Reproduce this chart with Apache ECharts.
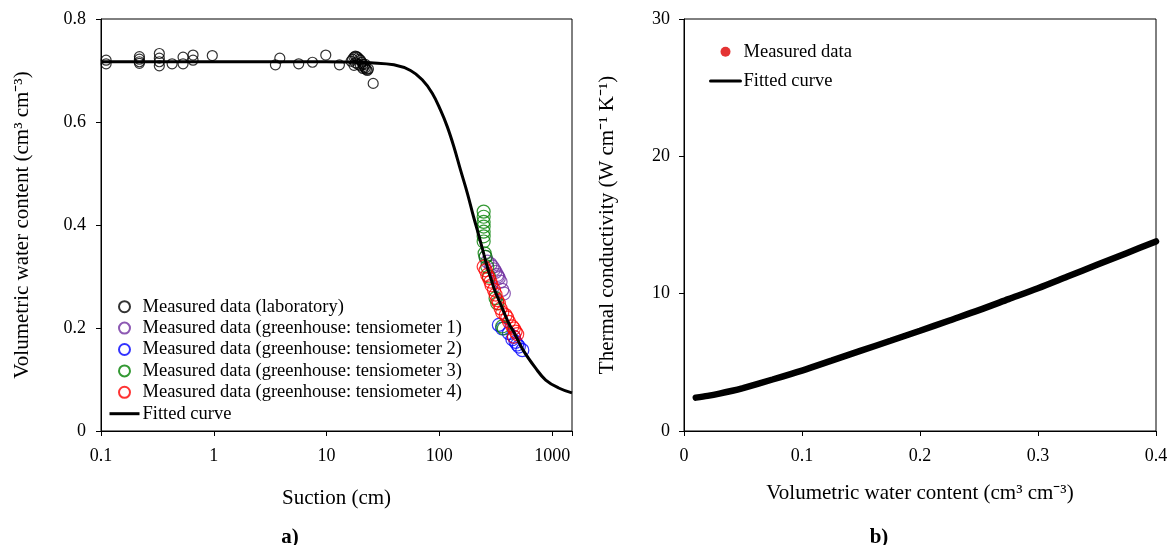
<!DOCTYPE html>
<html>
<head>
<meta charset="utf-8">
<script src="https://cdn.jsdelivr.net/npm/echarts@6/dist/echarts.min.js"></script>
<style>
  html, body { margin: 0; padding: 0; background: #fff; }
  #chart { width: 1171px; height: 545px; }
</style>
</head>
<body>
<div id="chart"></div>
<script>
// a) water retention: suction (cm) vs volumetric water content
const labSuction = [0.111, 0.111, 0.219, 0.219, 0.219, 0.219, 0.329, 0.329, 0.329, 0.329, 0.427, 0.534, 0.534, 0.655, 0.655, 0.97,
  3.52, 3.85, 5.66, 7.5, 9.84, 13.0,
  16.5, 17, 17.5, 18, 18.5, 19, 19.5, 18, 19, 20, 20.5, 21, 21.5, 22, 22.5, 23, 21, 20, 22, 17.5, 23.5, 25.9]
const labTheta = [0.720, 0.713, 0.727, 0.722, 0.717, 0.714, 0.733, 0.724, 0.717, 0.709, 0.713, 0.726, 0.713, 0.730, 0.720, 0.729,
  0.711, 0.724, 0.713, 0.716, 0.730, 0.711,
  0.718, 0.722, 0.726, 0.728, 0.727, 0.725, 0.722, 0.715, 0.712, 0.720, 0.716, 0.712, 0.708, 0.705, 0.702, 0.700, 0.704, 0.709, 0.712, 0.710, 0.703, 0.675]

const t1Suction = [257, 266, 284, 296, 305, 315, 326, 337, 349, 361, 373, 330]
const t1Theta = [0.338, 0.329, 0.324, 0.319, 0.314, 0.309, 0.303, 0.297, 0.290, 0.274, 0.267, 0.300]

const t2Suction = [337, 361, 414, 444, 458, 474, 490, 507, 544]
const t2Theta = [0.206, 0.199, 0.190, 0.178, 0.183, 0.173, 0.168, 0.164, 0.157]

const t3Suction = [247, 247, 247, 247, 247, 247, 247, 252, 257, 266, 275, 315, 326, 361, 373]
const t3Theta = [0.426, 0.416, 0.406, 0.397, 0.387, 0.378, 0.368, 0.345, 0.338, 0.319, 0.300, 0.258, 0.248, 0.203, 0.199]

const t4Suction = [247, 257, 266, 275, 284, 290, 305, 315, 326, 337, 349, 361, 387, 400, 414, 444, 458, 474, 458, 490]
const t4Theta = [0.319, 0.312, 0.303, 0.297, 0.290, 0.283, 0.274, 0.265, 0.254, 0.248, 0.238, 0.230, 0.225, 0.220, 0.212, 0.203, 0.199, 0.193, 0.183, 0.188]

const fitSuction = [0.1, 0.3, 1, 3, 10, 18, 24.5, 39.5, 55.5, 70.5, 86.5, 102.5, 117.5, 134.5, 154, 177, 201, 223, 249, 268, 309, 350, 407, 470, 553, 714, 877, 1143, 1500]
const fitTheta = [0.717, 0.717, 0.717, 0.717, 0.717, 0.716, 0.715, 0.711, 0.700, 0.682, 0.656, 0.623, 0.591, 0.552, 0.507, 0.462, 0.416, 0.381, 0.342, 0.3165, 0.274, 0.246, 0.212, 0.187, 0.157, 0.122, 0.099, 0.0835, 0.074]

// b) thermal conductivity vs water content
const kTheta = [0.01, 0.02, 0.03, 0.04, 0.05, 0.075, 0.1, 0.125, 0.15, 0.175, 0.2, 0.225, 0.25, 0.275, 0.3, 0.325, 0.35, 0.375, 0.4]
const kValue = [2.43, 2.56, 2.72, 2.91, 3.13, 3.75, 4.4, 5.12, 5.85, 6.57, 7.3, 8.05, 8.8, 9.6, 10.4, 11.25, 12.1, 12.95, 13.8]
const kMeasuredTheta = []
const kMeasuredValue = []

const FONT = "'Liberation Serif', 'Times New Roman', serif"
const zip = (a, b) => a.map((v, i) => [v, b[i]])

const chart = echarts.init(document.getElementById('chart'))

const axisCommon = {
  axisLine: { show: true, onZero: false, lineStyle: { color: '#000', width: 1 } },
  axisTick: { show: true, inside: false, length: 5, lineStyle: { color: '#000' } },
  splitLine: { show: false },
  nameTextStyle: { fontFamily: FONT, fontSize: 21, color: '#000' }
}
const labelCommon = { fontFamily: FONT, fontSize: 18, color: '#000' }

const hollow = (name, color, size, x, y) => ({
  name: name,
  type: 'scatter',
  xAxisIndex: 0,
  yAxisIndex: 0,
  symbol: 'circle',
  symbolSize: size,
  itemStyle: { color: 'rgba(0,0,0,0)', borderColor: color, borderWidth: 1.2 },
  data: zip(x, y),
  z: 2
})

const option = {
  backgroundColor: '#fff',
  animation: false,
  title: [
    { text: 'a)', left: 285, top: 522, textAlign: 'center', textStyle: { fontFamily: FONT, fontSize: 21, fontWeight: 'bold', color: '#000' } },
    { text: 'b)', left: 874, top: 522, textAlign: 'center', textStyle: { fontFamily: FONT, fontSize: 21, fontWeight: 'bold', color: '#000' } }
  ],
  grid: [
    { left: 101, right: 599, top: 19, bottom: 114, show: true, borderColor: '#000', borderWidth: 1, containLabel: false },
    { left: 684, right: 15, top: 19, bottom: 114, show: true, borderColor: '#000', borderWidth: 1, containLabel: false }
  ],
  legend: [
    {
      orient: 'vertical',
      left: 103,
      top: 291,
      itemWidth: 30,
      itemHeight: 11,
      itemGap: 0,
      textStyle: { fontFamily: FONT, fontSize: 18.5, color: '#000', lineHeight: 21.4, padding: [0, 0, 0, -2] },
      lineStyle: { width: 3 },
      data: [
        'Measured data (laboratory)',
        'Measured data (greenhouse: tensiometer 1)',
        'Measured data (greenhouse: tensiometer 2)',
        'Measured data (greenhouse: tensiometer 3)',
        'Measured data (greenhouse: tensiometer 4)',
        'Fitted curve'
      ]
    },
    {
      orient: 'vertical',
      left: 704,
      top: 36,
      itemWidth: 30,
      itemHeight: 10,
      itemGap: 8,
      textStyle: { fontFamily: FONT, fontSize: 18.5, color: '#000', lineHeight: 21.4, padding: [0, 0, 0, -2] },
      lineStyle: { width: 3 },
      data: ['Measured data', 'Fitted curve ']
    }
  ],
  xAxis: [
    {
      ...axisCommon,
      gridIndex: 0,
      type: 'log',
      logBase: 10,
      min: 0.1,
      max: 1500,
      name: 'Suction (cm)',
      nameLocation: 'middle',
      nameGap: 57,
      axisLabel: {
        ...labelCommon,
        margin: 16,
        formatter: v => {
          const l = Math.log10(v)
          return Math.abs(l - Math.round(l)) < 1e-6 ? String(Math.pow(10, Math.round(l)).toFixed(l < 0 ? 1 : 0)) : ''
        }
      }
    },
    {
      ...axisCommon,
      gridIndex: 1,
      type: 'value',
      min: 0,
      max: 0.4,
      interval: 0.1,
      name: 'Volumetric water content (cm³ cm⁻³)',
      nameLocation: 'middle',
      nameGap: 52,
      axisLabel: { ...labelCommon, margin: 16 }
    }
  ],
  yAxis: [
    {
      ...axisCommon,
      gridIndex: 0,
      type: 'value',
      min: 0,
      max: 0.8,
      interval: 0.2,
      name: 'Volumetric water content (cm³ cm⁻³)',
      nameLocation: 'middle',
      nameGap: 68,
      axisLabel: { ...labelCommon, margin: 15 }
    },
    {
      ...axisCommon,
      gridIndex: 1,
      type: 'value',
      min: 0,
      max: 30,
      interval: 10,
      name: 'Thermal conductivity (W cm⁻¹ K⁻¹)',
      nameLocation: 'middle',
      nameGap: 66,
      axisLabel: { ...labelCommon, margin: 14 }
    }
  ],
  series: [
    hollow('Measured data (laboratory)', '#000', 10, labSuction, labTheta),
    hollow('Measured data (greenhouse: tensiometer 1)', '#7030A0', 13, t1Suction, t1Theta),
    hollow('Measured data (greenhouse: tensiometer 2)', '#0000FF', 13, t2Suction, t2Theta),
    hollow('Measured data (greenhouse: tensiometer 3)', '#008000', 13, t3Suction, t3Theta),
    hollow('Measured data (greenhouse: tensiometer 4)', '#FF0000', 13, t4Suction, t4Theta),
    {
      name: 'Fitted curve',
      type: 'line',
      xAxisIndex: 0,
      yAxisIndex: 0,
      symbol: 'none',
      smooth: 0.4,
      lineStyle: { color: '#000', width: 3 },
      itemStyle: { color: 'rgba(0,0,0,0)' },
      data: zip(fitSuction, fitTheta),
      z: 3
    },
    {
      name: 'Measured data',
      type: 'scatter',
      xAxisIndex: 1,
      yAxisIndex: 1,
      symbol: 'circle',
      symbolSize: 9,
      itemStyle: { color: '#DD0000' },
      data: zip(kMeasuredTheta, kMeasuredValue)
    },
    {
      name: 'Fitted curve ',
      type: 'line',
      xAxisIndex: 1,
      yAxisIndex: 1,
      symbol: 'none',
      smooth: 0.3,
      lineStyle: { color: '#000', width: 6.5, cap: 'round' },
      itemStyle: { color: 'rgba(0,0,0,0)' },
      data: zip(kTheta, kValue),
      z: 3
    }
  ]
}

chart.setOption(option)
</script>
</body>
</html>
